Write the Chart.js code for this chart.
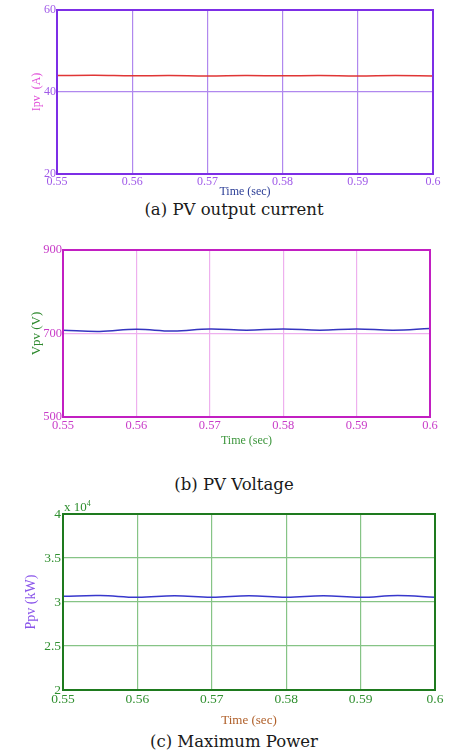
<!DOCTYPE html>
<html>
<head>
<meta charset="utf-8">
<script src="https://cdn.jsdelivr.net/npm/chart.js@4.4.1/dist/chart.umd.min.js"></script>
<style>
  body { margin: 0; background: #fff; }
  #wrap { position: relative; width: 466px; height: 756px; overflow: hidden; }
  #wrap canvas { position: absolute; left: 0; }
  .cap { position: absolute; left: 0; width: 468px; text-align: center;
         font-family: "DejaVu Serif", serif; font-size: 16.5px; line-height: 20px; color: #1a1a1a; }
  #exp { position: absolute; left: 64px; top: 499px; font-family: "Liberation Serif", serif;
         font-size: 13px; color: #2f8f2f; }
  #exp sup { font-size: 8px; }
</style>
</head>
<body>
<div id="wrap">
  <canvas id="ipvChart" width="466" height="200" style="top:0px"></canvas>
  <div class="cap" style="top:200px">(a) PV output current</div>
  <canvas id="vpvChart" width="466" height="210" style="top:240px"></canvas>
  <div class="cap" style="top:475px">(b) PV Voltage</div>
  <canvas id="ppvChart" width="466" height="230" style="top:500px"></canvas>
  <span id="exp">x 10<sup>4</sup></span>
  <div class="cap" style="top:732px">(c) Maximum Power</div>
</div>
<script>
// ---- data ----
const timeSec = [0.55, 0.555, 0.56, 0.565, 0.57, 0.575, 0.58, 0.585, 0.59, 0.595, 0.6];
const xTicks = [0.55, 0.56, 0.57, 0.58, 0.59, 0.6];

const ipvAmp = [44.0, 44.1, 43.95, 44.0, 43.9, 44.0, 43.95, 44.0, 43.9, 44.0, 43.9];
const ipvTicks = [20, 40, 60];

const vpvVolt = [708, 705, 710, 706, 711, 708, 711, 708, 711, 708, 712];
const vpvTicks = [500, 700, 900];

const ppvE4 = [3.065, 3.073, 3.053, 3.07, 3.053, 3.072, 3.053, 3.07, 3.053, 3.073, 3.053]; // x 10^4
const ppvTicks = [2, 2.5, 3, 3.5, 4];

const serif = 'Liberation Serif';

// box around the axes (matlab "box on")
const frame = {
    id: 'frame',
    afterDraw(chart, args, o) {
        const a = chart.chartArea, ctx = chart.ctx;
        ctx.save();
        ctx.strokeStyle = o.color;
        ctx.lineWidth = o.width;
        ctx.strokeRect(a.left, a.top, a.right - a.left, a.bottom - a.top);
        ctx.restore();
    }
};

function plot(id, c) {
    return new Chart(document.getElementById(id), {
        type: 'line',
        data: {
            datasets: [{
                data: c.values.map((v, i) => ({ x: timeSec[i], y: v })),
                borderColor: c.line,
                borderWidth: 1.5,
                pointRadius: 0,
                tension: 0.4
            }]
        },
        options: {
            responsive: false,
            animation: false,
            layout: { padding: c.pad },
            plugins: {
                legend: { display: false },
                tooltip: { enabled: false },
                frame: { color: c.border, width: 2 }
            },
            scales: {
                x: {
                    type: 'linear',
                    min: xTicks[0],
                    max: xTicks[xTicks.length - 1],
                    afterBuildTicks: s => { s.ticks = xTicks.map(v => ({ value: v })); },
                    afterFit: s => { s.height = c.xh; },
                    grid: { color: c.grid, lineWidth: 1.2, drawTicks: false },
                    border: { color: c.border, width: 2 },
                    ticks: {
                        autoSkip: false, maxRotation: 0,
                        color: c.tick, padding: c.xtp,
                        font: { family: serif, size: c.tf },
                        callback: v => String(+v.toFixed(2))
                    },
                    title: {
                        display: true, text: 'Time (sec)', color: c.xlab,
                        font: { family: serif, size: c.xf },
                        padding: { top: 0, bottom: c.xtb }
                    }
                },
                y: {
                    min: c.yTicks[0],
                    max: c.yTicks[c.yTicks.length - 1],
                    afterBuildTicks: s => { s.ticks = c.yTicks.map(v => ({ value: v })); },
                    afterFit: s => { s.width = c.yw; },
                    grid: { color: c.grid, lineWidth: 1.2, drawTicks: false },
                    border: { color: c.border, width: 2 },
                    ticks: {
                        color: c.tick, padding: c.ytp,
                        font: { family: serif, size: c.tf },
                        callback: v => String(v)
                    },
                    title: {
                        display: true, text: c.ylabel, color: c.ylab,
                        font: { family: serif, size: c.yf },
                        padding: { top: c.ytt, bottom: 0 }
                    }
                }
            }
        },
        plugins: [frame]
    });
}

// (a) PV output current
plot('ipvChart', {
    values: ipvAmp, yTicks: ipvTicks, ylabel: 'Ipv  (A)',
    pad: { top: 10, right: 33, left: 0, bottom: 0 }, xh: 26, yw: 57,
    border: '#7d2ee6', grid: '#b088ee', tick: '#a05ae8',
    ylab: '#e04fd8', xlab: '#2b3d96', line: '#e03535',
    tf: 12, xf: 12, yf: 12, xtp: 1, ytp: 1, xtb: 0.8, ytt: 30
});

// (b) PV voltage
plot('vpvChart', {
    values: vpvVolt, yTicks: vpvTicks, ylabel: 'Vpv (V)',
    pad: { top: 10, right: 36, left: 0, bottom: 0 }, xh: 33, yw: 63,
    border: '#c21fc2', grid: '#eeb0ee', tick: '#c83cc8',
    ylab: '#2f8a2f', xlab: '#3c963c', line: '#3535c0',
    tf: 12.5, xf: 12, yf: 13, xtp: 1, ytp: 1, xtb: 1.8, ytt: 29
});

// (c) maximum power
plot('ppvChart', {
    values: ppvE4, yTicks: ppvTicks, ylabel: 'Ppv (kW)',
    pad: { top: 14, right: 31, left: 0, bottom: 0 }, xh: 40, yw: 63,
    border: '#1e7a1e', grid: '#86c486', tick: '#2f8f2f',
    ylab: '#8a55ea', xlab: '#b0602a', line: '#3838cc',
    tf: 13.5, xf: 13, yf: 14, xtp: 1.5, ytp: 2, xtb: 1.2, ytt: 22.6
});
</script>
</body>
</html>
